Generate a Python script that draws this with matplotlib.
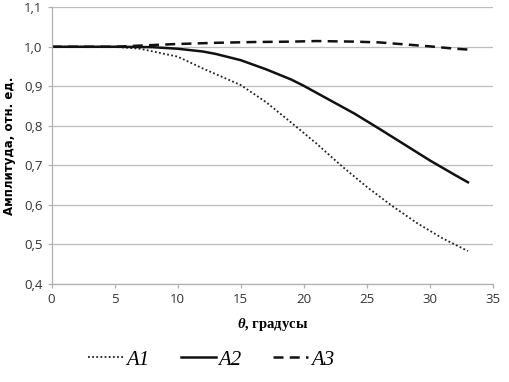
import matplotlib
matplotlib.use("Agg")
import matplotlib.pyplot as plt
from matplotlib.lines import Line2D

theta_a1 = [0, 5, 7, 10, 12, 15, 17, 19, 21, 23, 25, 27, 29, 31, 33]
a1 = [1.0, 1.0, 0.995, 0.975, 0.945, 0.903, 0.86, 0.808, 0.755, 0.698, 0.645, 0.597, 0.553, 0.515, 0.483]

theta_a2 = [0, 5, 8, 10, 12, 13, 15, 17, 19, 20, 22, 24, 26, 28, 30, 32, 33]
a2 = [1.0, 1.0, 0.999, 0.995, 0.988, 0.982, 0.966, 0.943, 0.917, 0.901, 0.866, 0.831, 0.792, 0.752, 0.712, 0.675, 0.657]

theta_a3 = [0, 5, 7, 10, 13, 16, 19, 21, 24, 26, 28, 30, 32, 33]
a3 = [1.0, 1.0, 1.003, 1.007, 1.010, 1.012, 1.013, 1.0145, 1.013, 1.011, 1.006, 1.001, 0.995, 0.993]

labels = ["A1", "A2", "A3"]
x_ticks = [0, 5, 10, 15, 20, 25, 30, 35]
y_ticks = [0.4, 0.5, 0.6, 0.7, 0.8, 0.9, 1.0, 1.1]

plt.rcParams["mathtext.fontset"] = "custom"
plt.rcParams["mathtext.bf"] = "Liberation Serif:bold:italic"
plt.rcParams["mathtext.rm"] = "Liberation Serif"

fig = plt.figure(figsize=(5.1, 3.82), dpi=100)
ax = fig.add_axes([0.101, 0.257, 0.866, 0.724])

ax.plot(theta_a1, a1, color="#222222", lw=1.3, linestyle=(0, (1, 1.3)))
ax.plot(theta_a2, a2, color="#111111", lw=1.8, linestyle="-")
ax.plot(theta_a3, a3, color="#111111", lw=1.8, linestyle=(0, (4, 2.5)))

ax.set_xlim(0, 35)
ax.set_ylim(0.4, 1.1)
ax.set_xticks(x_ticks)
ax.set_yticks(y_ticks)
ax.set_xticklabels([str(t) for t in x_ticks])
ax.set_yticklabels([f"{t:.1f}".replace(".", ",") for t in y_ticks])
ax.yaxis.grid(True, color="#bdbdbd", lw=0.9)
ax.set_axisbelow(True)
for s in ["top", "right"]:
    ax.spines[s].set_visible(False)
for s in ["left", "bottom"]:
    ax.spines[s].set_color("#b0b0b0")
    ax.spines[s].set_linewidth(0.9)
ax.tick_params(axis="both", colors="#b0b0b0", labelcolor="#333333", labelsize=9.5, length=3, width=0.9)
for lab in ax.get_xticklabels() + ax.get_yticklabels():
    lab.set_family("Open Sans")

ax.set_ylabel("Амплитуда, отн. ед.", fontsize=8.5, fontweight="bold", family="DejaVu Sans", labelpad=6)
ax.set_xlabel(r"$\mathbf{\theta}$, градусы", fontsize=10.5, fontweight="bold",
              family="Liberation Serif", labelpad=7)

handles = [
    Line2D([], [], color="#222222", lw=1.3, linestyle=(0, (1, 1.3))),
    Line2D([], [], color="#111111", lw=1.8, linestyle="-"),
    Line2D([], [], color="#111111", lw=1.8, linestyle=(0, (4, 2.5))),
]
leg = fig.legend(handles, labels, loc="center", bbox_to_anchor=(0.414, 0.058), ncol=3, frameon=False,
                 prop={"family": "Liberation Serif", "style": "italic", "size": 15},
                 handlelength=1.7, handletextpad=0.12, columnspacing=1.5)

fig.savefig("out.png", dpi=100)
